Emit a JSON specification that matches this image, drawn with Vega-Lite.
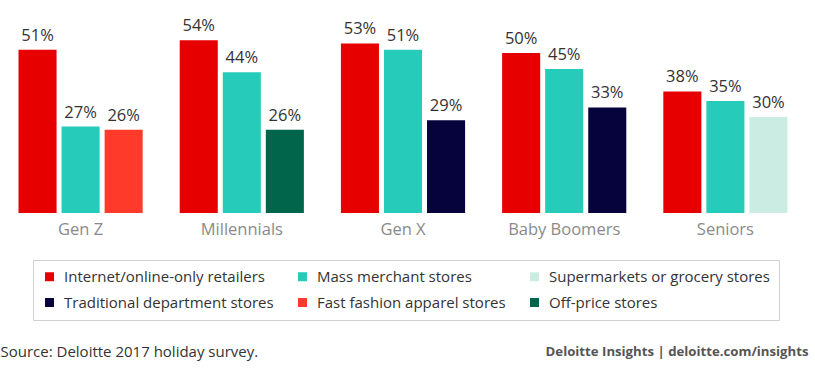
{
  "$schema": "https://vega.github.io/schema/vega-lite/v6.json",
  "width": 806,
  "height": 213,
  "autosize": {"type": "none"},
  "padding": {"left": 0, "top": 0, "right": 9, "bottom": 157},
  "background": "white",
  "config": {"font": "Open Sans", "view": {"stroke": null}},
  "data": {
    "values": [
      {"generation": "Gen Z", "slot": 1, "store": "Internet/online-only retailers", "share": 0.51},
      {"generation": "Gen Z", "slot": 2, "store": "Mass merchant stores", "share": 0.27},
      {"generation": "Gen Z", "slot": 3, "store": "Fast fashion apparel stores", "share": 0.26},
      {"generation": "Millennials", "slot": 1, "store": "Internet/online-only retailers", "share": 0.54},
      {"generation": "Millennials", "slot": 2, "store": "Mass merchant stores", "share": 0.44},
      {"generation": "Millennials", "slot": 3, "store": "Off-price stores", "share": 0.26},
      {"generation": "Gen X", "slot": 1, "store": "Internet/online-only retailers", "share": 0.53},
      {"generation": "Gen X", "slot": 2, "store": "Mass merchant stores", "share": 0.51},
      {"generation": "Gen X", "slot": 3, "store": "Traditional department stores", "share": 0.29},
      {"generation": "Baby Boomers", "slot": 1, "store": "Internet/online-only retailers", "share": 0.50},
      {"generation": "Baby Boomers", "slot": 2, "store": "Mass merchant stores", "share": 0.45},
      {"generation": "Baby Boomers", "slot": 3, "store": "Traditional department stores", "share": 0.33},
      {"generation": "Seniors", "slot": 1, "store": "Internet/online-only retailers", "share": 0.38},
      {"generation": "Seniors", "slot": 2, "store": "Mass merchant stores", "share": 0.35},
      {"generation": "Seniors", "slot": 3, "store": "Supermarkets or grocery stores", "share": 0.30}
    ]
  },
  "encoding": {
    "x": {
      "field": "generation",
      "type": "nominal",
      "sort": ["Gen Z", "Millennials", "Gen X", "Baby Boomers", "Seniors"],
      "scale": {"paddingInner": 0, "paddingOuter": 0},
      "axis": {
        "labelAngle": 0,
        "labelFontSize": 16.5,
        "labelColor": "#8a8a8a",
        "labelPadding": 8,
        "domain": false,
        "ticks": false,
        "title": "Deloitte Insights | deloitte.com/insights",
        "titleX": 808,
        "titleY": 138,
        "titleAlign": "right",
        "titleAnchor": null,
        "titleBaseline": "middle",
        "titleFontSize": 13.2,
        "titleFontWeight": "bold",
        "titleColor": "#555555"
      }
    },
    "xOffset": {
      "field": "slot",
      "type": "ordinal",
      "scale": {"paddingInner": 0.116, "paddingOuter": 0.43}
    },
    "y": {
      "field": "share",
      "type": "quantitative",
      "scale": {"domain": [0, 0.665625], "nice": false, "zero": true},
      "axis": {
        "labels": false,
        "ticks": false,
        "domain": false,
        "grid": false,
        "title": "Source: Deloitte 2017 holiday survey.",
        "titleAngle": 0,
        "titleX": 0,
        "titleY": 351,
        "titleAlign": "left",
        "titleAnchor": null,
        "titleBaseline": "middle",
        "titleFontSize": 15,
        "titleFontWeight": "normal",
        "titleColor": "#333333"
      }
    }
  },
  "layer": [
    {
      "mark": {"type": "bar"},
      "encoding": {
        "color": {
          "field": "store",
          "type": "nominal",
          "scale": {
            "domain": [
              "Internet/online-only retailers",
              "Mass merchant stores",
              "Supermarkets or grocery stores",
              "Traditional department stores",
              "Fast fashion apparel stores",
              "Off-price stores"
            ],
            "range": ["#e60000", "#26cbba", "#cbece2", "#06023b", "#fe3b2b", "#01654c"]
          },
          "legend": {
            "title": null,
            "orient": "none",
            "legendX": 33,
            "legendY": 260,
            "direction": "horizontal",
            "columns": 3,
            "columnPadding": 21,
            "rowPadding": 10,
            "padding": 9,
            "strokeColor": "#d0d0d0",
            "fillColor": "white",
            "symbolType": "square",
            "symbolSize": 81,
            "symbolStrokeWidth": 0,
            "labelFontSize": 15,
            "labelColor": "#333333",
            "labelOffset": 7,
            "labelLimit": 400
          }
        }
      }
    },
    {
      "mark": {"type": "text", "baseline": "alphabetic", "dy": -9, "fontSize": 16.5, "color": "#333333"},
      "encoding": {
        "text": {"field": "share", "type": "quantitative", "format": ".0%"}
      }
    }
  ]
}
